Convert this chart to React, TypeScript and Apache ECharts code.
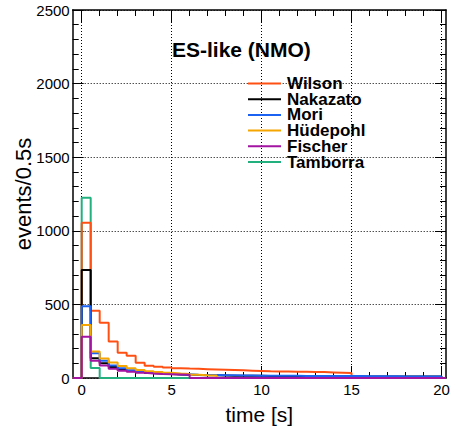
import React, { useEffect, useRef } from "react";
import * as echarts from "echarts";

// ---- data (events per 0.5 s bin, bins start at t = 0) ----
const binWidth = 0.5;
const xRange = [-0.5, 20.25];
const xMajorTicks = [0, 5, 10, 15, 20];
const xMinorTicks = [0, 1, 2, 3, 4, 5, 6, 7, 8, 9, 10, 11, 12, 13, 14, 15, 16, 17, 18, 19, 20];
const legendOrder = ["Wilson", "Nakazato", "Mori", "Hüdepohl", "Fischer", "Tamborra"];

const tamborra = [1225, 68, 0, 0, 0, 0, 0, 0, 0, 0, 0, 0];
const wilson = [1055, 457, 375, 248, 172, 152, 104, 84, 77, 72, 67, 64, 62, 60, 58, 56, 54, 52, 50, 48, 46, 45, 44, 43, 42, 41, 40, 38, 36, 34];
const nakazato = [733, 135, 100, 75, 58, 47, 40, 34, 30, 27, 24, 22, 20, 19, 18, 17, 16, 16, 15, 15, 14, 14, 14, 13, 13, 13, 12, 12, 12, 12, 11, 11, 11, 11, 10, 10, 10, 10, 10, 10];
const mori = [487, 168, 118, 85, 66, 53, 44, 38, 33, 29, 26, 24, 22, 21, 20, 19, 18, 17, 17, 16, 16, 15, 15, 15, 14, 14, 14, 13, 13, 13, 13, 12, 12, 12, 12, 11, 11, 11, 11, 10];
const huedepohl = [360, 180, 132, 106, 82, 66, 54, 46, 40, 35, 31, 28, 22, 19, 17];
const fischer = [280, 118, 85, 62, 50, 42, 35, 31, 28, 26, 24, 22];

// drawing order (last on top)
const seriesDefs = [
  { name: "Tamborra", values: tamborra, color: "#22b07f" },
  { name: "Wilson", values: wilson, color: "#ff5014" },
  { name: "Nakazato", values: nakazato, color: "#000000" },
  { name: "Mori", values: mori, color: "#1b62f2" },
  { name: "Hüdepohl", values: huedepohl, color: "#f5a600" },
  { name: "Fischer", values: fischer, color: "#a314a3" },
];

function histPoints(values: number[]): number[][] {
  const pts: number[][] = [[xRange[0], 0], [0, 0]];
  values.forEach((v, i) => {
    pts.push([i * binWidth, v], [(i + 1) * binWidth, v]);
  });
  const end = values.length * binWidth;
  pts.push([end, 0], [xRange[1], 0]);
  return pts;
}

const FONT = "'Liberation Sans', Arial, Helvetica, sans-serif";

export default function App() {
  const ref = useRef<HTMLDivElement>(null);
  useEffect(() => {
    if (!ref.current) return;
    const chart = echarts.init(ref.current, undefined, { renderer: "svg" });
    const axisLine = { show: true, onZero: false, lineStyle: { color: "#000", width: 1.5 } };
    const split = { show: true, lineStyle: { color: "#000", width: 1, type: [1, 2] } };
    const xBase = {
      type: "value",
      min: xRange[0],
      max: xRange[1],
      axisLine,
    };
    const yBase = {
      type: "value",
      min: 0,
      max: 2500,
      interval: 500,
      axisLine,
      axisTick: { show: true, inside: true, length: 11, lineStyle: { color: "#000", width: 1 } },
      minorTick: { show: true, splitNumber: 5, length: 6, lineStyle: { color: "#000", width: 1 } },
    };
    chart.setOption({
      animation: false,
      backgroundColor: "#fff",
      textStyle: { fontFamily: FONT },
      title: {
        text: "ES-like (NMO)",
        left: 172,
        top: 39,
        padding: 0,
        textStyle: { fontFamily: FONT, fontSize: 21, fontWeight: "bold", color: "#000" },
      },
      legend: {
        data: legendOrder,
        orient: "vertical",
        left: 247,
        top: 75,
        padding: 0,
        itemWidth: 33,
        itemHeight: 12,
        itemGap: -1.3,
        selectedMode: false,
        itemStyle: { opacity: 0 },
        textStyle: {
          fontFamily: FONT,
          fontSize: 17,
          fontWeight: "bold",
          color: "#000",
          padding: [0, 0, 0, 1],
        },
      },
      grid: {
        left: 72.7,
        right: 14,
        top: 10,
        bottom: 51,
        containLabel: false,
        outerBoundsMode: "none",
      },
      xAxis: [
        {
          ...xBase,
          position: "bottom",
          name: "time [s]",
          nameLocation: "middle",
          nameGap: 26,
          nameMoveOverlap: false,
          nameTextStyle: { fontFamily: FONT, fontSize: 21, color: "#000" },
          axisTick: { show: true, inside: true, length: 6, customValues: xMinorTicks, lineStyle: { color: "#000", width: 1 } },
          axisLabel: { show: false },
          splitLine: { show: false },
        },
        {
          ...xBase,
          position: "bottom",
          axisLine: { show: false, onZero: false },
          axisTick: { show: true, inside: true, length: 12, customValues: xMajorTicks, lineStyle: { color: "#000", width: 1 } },
          axisLabel: { show: true, customValues: xMajorTicks, margin: 4, fontFamily: FONT, fontSize: 15, color: "#000" },
          splitLine: split,
        },
        {
          ...xBase,
          position: "top",
          axisTick: { show: true, inside: true, length: 6, customValues: xMinorTicks, lineStyle: { color: "#000", width: 1 } },
          axisLabel: { show: false },
          splitLine: { show: false },
        },
        {
          ...xBase,
          position: "top",
          axisLine: { show: false, onZero: false },
          axisTick: { show: true, inside: true, length: 12, customValues: xMajorTicks, lineStyle: { color: "#000", width: 1 } },
          axisLabel: { show: false },
          splitLine: { show: false },
        },
      ],
      yAxis: [
        {
          ...yBase,
          position: "left",
          name: "events/0.5s",
          nameLocation: "middle",
          nameGap: 38,
          nameMoveOverlap: false,
          nameTextStyle: { fontFamily: FONT, fontSize: 22, color: "#000" },
          axisLabel: {
            show: true,
            margin: 3,
            fontFamily: FONT,
            fontSize: 15,
            color: "#000",
            formatter: (v: number) => String(v),
          },
          splitLine: split,
        },
        {
          ...yBase,
          position: "right",
          axisLabel: { show: false },
          splitLine: { show: false },
        },
      ],
      series: seriesDefs.map((s) => ({
        name: s.name,
        type: "line",
        xAxisIndex: 0,
        yAxisIndex: 0,
        data: histPoints(s.values),
        symbol: "none",
        showSymbol: false,
        color: s.color,
        lineStyle: { color: s.color, width: 2 },
        itemStyle: { color: s.color },
        clip: true,
        silent: true,
      })),
    });
    return () => chart.dispose();
  }, []);
  return (
    <div
      ref={ref}
      style={{ position: "fixed", left: 0, top: 0, width: 460, height: 429, background: "#fff" }}
    />
  );
}
